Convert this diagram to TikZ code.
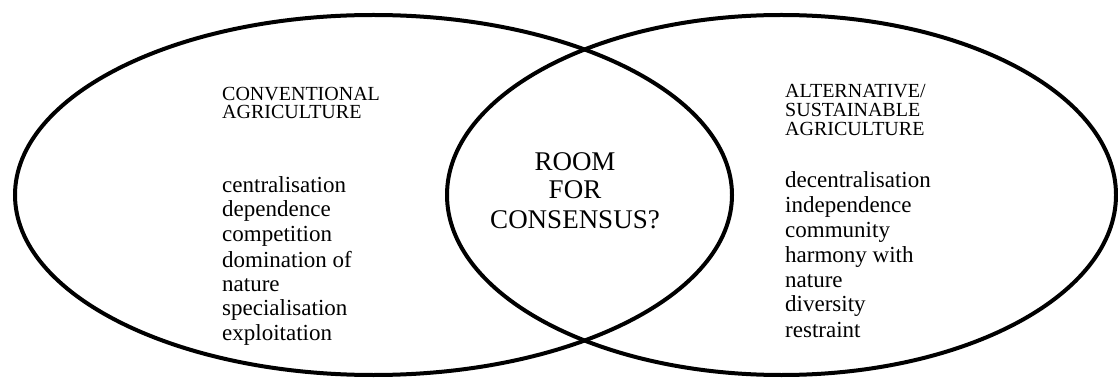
\documentclass[tikz,border=0pt]{standalone}
\usepackage{fontspec}
\setmainfont{Liberation Serif}
\begin{document}
\begin{tikzpicture}[x=1pt,y=-1pt,
  ring/.style={line width=4pt},
  head/.style={anchor=base west, inner sep=0pt, font=\fontsize{20}{20}\selectfont},
  item/.style={anchor=base west, inner sep=0pt, font=\fontsize{23}{23}\selectfont},
  mid/.style={anchor=base, inner sep=0pt, font=\fontsize{27}{27}\selectfont}]
\useasboundingbox (0,0) rectangle (1118,379);
\draw[ring] (373.5,195) ellipse [x radius=358.5, y radius=180];
\draw[ring] (781.5,195) ellipse [x radius=334.5, y radius=180];
% left block
\node[head] (lh1) at (222,100.7) {CONVENTIONAL};
\node[head] (lh2) at (222,118.5) {AGRICULTURE};
\foreach \t/\y [count=\i] in {centralisation/193, dependence/217, competition/242, domination of/267, nature/291, specialisation/315, exploitation/340}
  \node[item] (li\i) at (222,\y) {\t};
% right block
\node[head] (rh1) at (785,98) {ALTERNATIVE/};
\node[head] (rh2) at (785,117) {SUSTAINABLE};
\node[head] (rh3) at (785,136) {AGRICULTURE};
\foreach \t/\y [count=\i] in {decentralisation/188, independence/213, community/237, harmony with/262, nature/287, diversity/311, restraint/337}
  \node[item] (ri\i) at (785,\y) {\t};
% centre
\node[mid] (c1) at (575,171) {ROOM};
\node[mid] (c2) at (575,199) {FOR};
\node[mid] (c3) at (575,229) {CONSENSUS?};
\end{tikzpicture}
\end{document}
